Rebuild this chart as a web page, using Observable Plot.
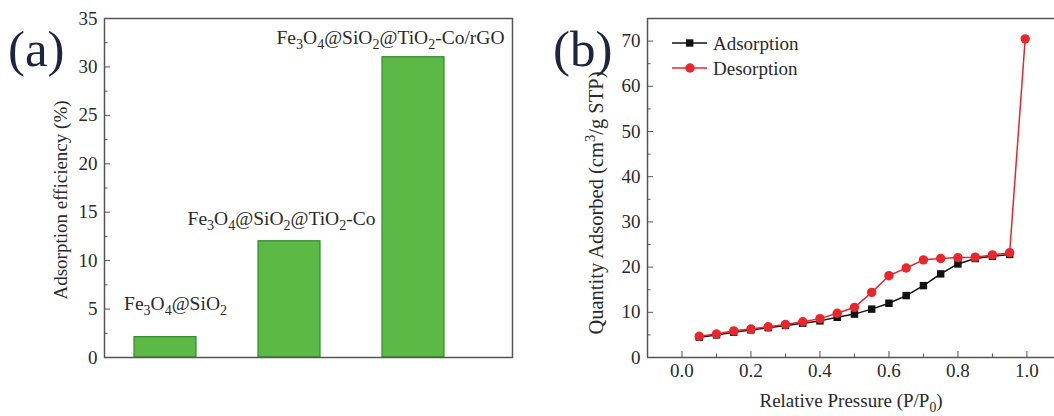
<!DOCTYPE html>
<html><head><meta charset="utf-8">
<script src="https://cdn.jsdelivr.net/npm/d3@7"></script>
<script src="https://cdn.jsdelivr.net/npm/@observablehq/plot@0.6"></script>
<style>
body{margin:0;background:#fff;}
#wrap{position:relative;width:1054px;height:416px;overflow:hidden;font-family:"Liberation Serif","Times New Roman",serif;}
.panel{position:absolute;top:0;}
#overlay{position:absolute;left:0;top:0;pointer-events:none;}
</style></head>
<body>
<div id="wrap">
  <div id="pa" class="panel" style="left:0"></div>
  <div id="pb" class="panel" style="left:530px"></div>
  <svg id="overlay" width="1054" height="416"></svg>
</div>
<script>
// ---------- data (a) ----------
const barCats = ["Fe₃O₄@SiO₂", "Fe₃O₄@SiO₂@TiO₂-Co", "Fe₃O₄@SiO₂@TiO₂-Co/rGO"];
const barVals = [2.1, 12.0, 31.0];
const yTicksA = [0, 5, 10, 15, 20, 25, 30, 35];
const yMinorA = [2.5, 7.5, 12.5, 17.5, 22.5, 27.5, 32.5];

// ---------- data (b) ----------
const seriesNames = ["Adsorption", "Desorption"];
const adsP = [0.05,0.10,0.15,0.20,0.25,0.30,0.35,0.40,0.45,0.50,0.55,0.60,0.65,0.70,0.75,0.80,0.85,0.90,0.95];
const adsQ = [4.5,5.0,5.6,6.1,6.6,7.1,7.6,8.1,8.9,9.6,10.7,12.0,13.7,15.9,18.5,20.7,21.9,22.4,22.8];
const desP = [0.05,0.10,0.15,0.20,0.25,0.30,0.35,0.40,0.45,0.50,0.55,0.60,0.65,0.70,0.75,0.80,0.85,0.90,0.95,0.995];
const desQ = [4.7,5.2,5.9,6.3,6.8,7.3,7.9,8.6,9.8,11.1,14.4,18.1,19.8,21.6,21.9,22.1,22.2,22.7,23.2,70.5];
const xTicksB = [0.0,0.2,0.4,0.6,0.8,1.0];
const xMinorB = [0.1,0.3,0.5,0.7,0.9];
const yTicksB = [0,10,20,30,40,50,60,70];
const yMinorB = [5,15,25,35,45,55,65];

const FONT = "Liberation Serif, Times New Roman, serif";
const AX = "#555";
const TXT = "#2a2a2a";
const GREEN = "#5cb946", GREEN_D = "#2f8a2a";
const RED = "#e8262b", BLACK = "#111";
const FS = 19;

// ---------- panel (a) ----------
const bars = barCats.map((c, i) => ({c, v: barVals[i]}));
const labelDx = [10, -8, -23], labelDy = [-33, -23, -19];
const pa = Plot.plot({
  width: 530, height: 416,
  marginLeft: 104, marginRight: 18, marginTop: 18, marginBottom: 59,
  style: {fontFamily: FONT, fontSize: FS + "px", color: TXT, background: "transparent"},
  x: {domain: barCats, paddingInner: 0.496, paddingOuter: 0.38, align: 0.305, axis: null},
  y: {domain: [0, 35], axis: null},
  marks: [
    Plot.barY(bars, {x: "c", y: "v", fill: GREEN, stroke: GREEN_D, strokeWidth: 1.2}),
    Plot.axisY(yTicksA, {tickSize: 0, tickPadding: 7, fill: TXT, fontSize: FS,
      label: "Adsorption efficiency (%)", labelAnchor: "center", labelArrow: "none", labelOffset: 51}),
    Plot.axisY(yTicksA, {tickSize: -6, fill: "none", stroke: AX, label: null}),
    Plot.axisY(yMinorA, {tickSize: -3.5, fill: "none", stroke: AX, label: null}),
    Plot.frame({stroke: AX, strokeWidth: 1.5}),
    ...bars.map((d, i) => Plot.text([d], {x: "c", y: "v", text: "c", dx: labelDx[i], dy: labelDy[i],
      fontSize: 19.5, fill: TXT, lineAnchor: "middle"}))
  ]
});
document.getElementById("pa").appendChild(pa);

// ---------- panel (b) ----------
const ads = adsP.map((p, i) => ({p, q: adsQ[i]}));
const des = desP.map((p, i) => ({p, q: desQ[i]}));
const pb = Plot.plot({
  width: 524, height: 416,
  marginLeft: 117, marginRight: 0, marginTop: 18, marginBottom: 59,
  style: {fontFamily: FONT, fontSize: FS + "px", color: TXT, background: "transparent"},
  x: {domain: [-0.1, 1.08], axis: null},
  y: {domain: [0, 75], axis: null},
  marks: [
    Plot.line(ads, {x: "p", y: "q", stroke: BLACK, strokeWidth: 1.5}),
    Plot.dot(ads, {x: "p", y: "q", symbol: "square", r: 4.2, fill: BLACK}),
    Plot.line(des, {x: "p", y: "q", stroke: RED, strokeWidth: 1.5}),
    Plot.dot(des, {x: "p", y: "q", r: 4.7, fill: RED}),
    Plot.axisY(yTicksB, {tickSize: 0, tickPadding: 7, fill: TXT, fontSize: FS,
      label: "Quantity Adsorbed (cm³/g STP)", labelAnchor: "center", labelArrow: "none", labelOffset: 59}),
    Plot.axisY(yTicksB, {tickSize: -6, fill: "none", stroke: AX, label: null}),
    Plot.axisY(yMinorB, {tickSize: -3.5, fill: "none", stroke: AX, label: null}),
    Plot.axisX(xTicksB, {tickSize: 0, tickPadding: 6, fill: TXT, fontSize: FS, tickFormat: d3.format(".1f"),
      label: "Relative Pressure (P/P₀)", labelAnchor: "center", labelArrow: "none", labelOffset: 49}),
    Plot.axisX(xTicksB, {tickSize: -6, fill: "none", stroke: AX, label: null}),
    Plot.axisX(xMinorB, {tickSize: -3.5, fill: "none", stroke: AX, label: null}),
    Plot.ruleY([0], {stroke: AX, strokeWidth: 1.5}),
    Plot.ruleY([75], {stroke: AX, strokeWidth: 1.5}),
    Plot.ruleX([-0.1], {stroke: AX, strokeWidth: 1.5})
  ]
});
document.getElementById("pb").appendChild(pb);

// ---------- axis label tweaks (size / shift along the rotated text) ----------
function tweak(svg, startsWith, fontSize, dx) {
  svg.querySelectorAll("text").forEach(t => {
    if (t.textContent.startsWith(startsWith)) {
      if (fontSize) t.setAttribute("font-size", fontSize);
      if (dx) t.setAttribute("dx", dx);
    }
  });
}
tweak(pa, "Adsorption efficiency", null, -12);
tweak(pb, "Quantity Adsorbed", 20.5, -15);

// ---------- real sub/superscripts (text stays text) ----------
const SUB = "₀₁₂₃₄₅₆₇₈₉", SUP = {"³": "3", "²": "2"};
function richify(svg) {
  svg.querySelectorAll("text").forEach(t => {
    if (t.querySelector("tspan")) return;
    const s = t.textContent;
    if (![...s].some(ch => SUB.includes(ch) || SUP[ch])) return;
    const fs = parseFloat(t.getAttribute("font-size")) || parseFloat(getComputedStyle(t).fontSize) || FS;
    const sh = fs * 0.28, small = fs * 0.72;
    t.textContent = "";
    let run = "", mode = 0; // 0 normal, 1 sub, -1 sup
    const flush = () => {
      if (!run) return;
      const ts = document.createElementNS("http://www.w3.org/2000/svg", "tspan");
      ts.textContent = run;
      if (mode !== 0) { ts.setAttribute("font-size", small); ts.setAttribute("baseline-shift", mode === 1 ? -sh : sh * 1.4); }
      t.appendChild(ts); run = "";
    };
    for (const ch of s) {
      let m = 0, c = ch;
      if (SUB.includes(ch)) { m = 1; c = String(SUB.indexOf(ch)); }
      else if (SUP[ch]) { m = -1; c = SUP[ch]; }
      if (m !== mode) { flush(); mode = m; }
      run += c;
    }
    flush();
  });
}
richify(pa); richify(pb);

// ---------- overlay: panel tags and legend ----------
const ov = d3.select("#overlay").style("font-family", FONT);
ov.append("text").attr("x", 8).attr("y", 66).attr("font-size", 51).attr("fill", "#1d2440").text("(a)");
ov.append("text").attr("x", 553).attr("y", 66).attr("font-size", 51).attr("fill", "#1d2440").text("(b)");
const lg = ov.append("g");
const legendColors = [BLACK, RED];
seriesNames.forEach((name, i) => {
  const y = 43 + i * 25;
  lg.append("line").attr("x1", 672).attr("x2", 707).attr("y1", y).attr("y2", y)
    .attr("stroke", legendColors[i]).attr("stroke-width", 1.5);
  if (i === 0) lg.append("rect").attr("x", 686).attr("y", y - 3.7).attr("width", 7.4).attr("height", 7.4).attr("fill", BLACK);
  else lg.append("circle").attr("cx", 690).attr("cy", y).attr("r", 4.7).attr("fill", RED);
  lg.append("text").attr("x", 713).attr("y", y).attr("dy", "0.35em").attr("font-size", FS).attr("fill", TXT).text(name);
});
</script>
</body></html>
